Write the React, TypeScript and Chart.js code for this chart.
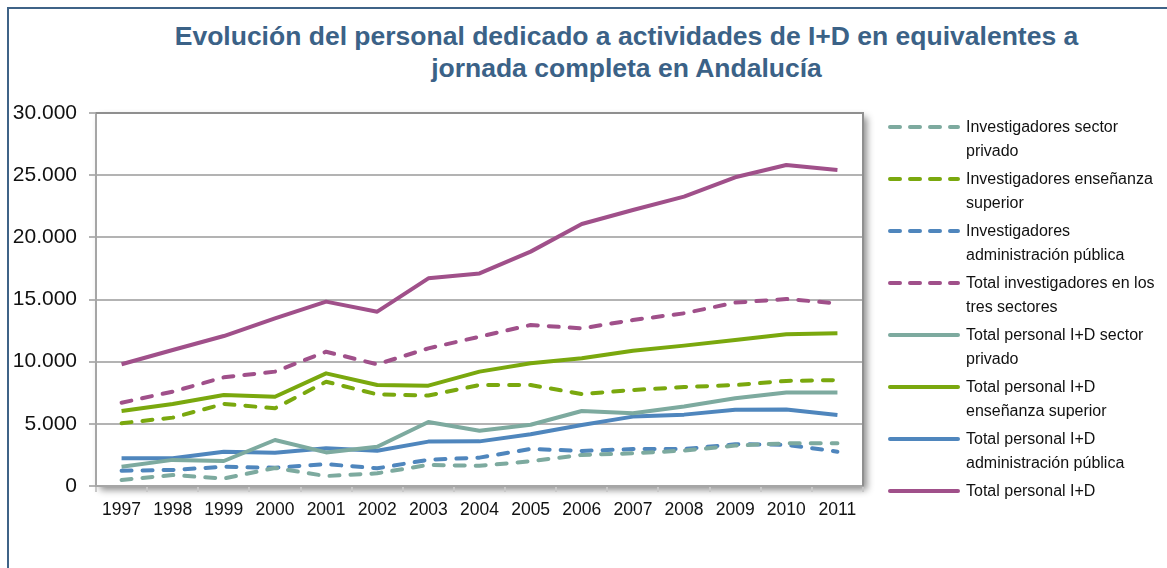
import React, { useEffect, useRef } from "react";
import { Chart, registerables } from "chart.js";

Chart.register(...registerables);

const years = ["1997", "1998", "1999", "2000", "2001", "2002", "2003", "2004", "2005", "2006", "2007", "2008", "2009", "2010", "2011"];

const invPrivado = [480, 880, 600, 1450, 800, 1020, 1700, 1620, 1990, 2500, 2630, 2850, 3250, 3430, 3430];
const invEnsenanza = [5050, 5500, 6600, 6250, 8390, 7370, 7280, 8120, 8120, 7400, 7720, 7960, 8120, 8450, 8520];
const invAdmin = [1230, 1290, 1550, 1470, 1760, 1420, 2110, 2280, 2980, 2820, 2970, 2970, 3360, 3320, 2760];
const invTotal = [6700, 7590, 8740, 9200, 10800, 9790, 11070, 12010, 12950, 12680, 13350, 13890, 14750, 15040, 14690];
const perPrivado = [1550, 2100, 2010, 3700, 2700, 3160, 5150, 4440, 4930, 6030, 5850, 6400, 7050, 7520, 7520];
const perEnsenanza = [6030, 6600, 7320, 7180, 9060, 8120, 8070, 9200, 9870, 10270, 10880, 11290, 11740, 12200, 12280];
const perAdmin = [2230, 2230, 2760, 2680, 3030, 2840, 3570, 3590, 4160, 4910, 5580, 5740, 6140, 6160, 5710];
const perTotal = [9790, 10940, 12060, 13490, 14830, 14020, 16700, 17100, 18850, 21070, 22200, 23270, 24830, 25820, 25420];

const seriesNames = [
  ["Investigadores sector", "privado"],
  ["Investigadores enseñanza", "superior"],
  ["Investigadores", "administración pública"],
  ["Total investigadores en los", "tres sectores"],
  ["Total personal I+D sector", "privado"],
  ["Total personal I+D", "enseñanza superior"],
  ["Total personal I+D", "administración pública"],
  ["Total personal I+D"],
];
const seriesValues = [invPrivado, invEnsenanza, invAdmin, invTotal, perPrivado, perEnsenanza, perAdmin, perTotal];
const seriesColors = ["#7DAA9F", "#7AA80E", "#4F86BD", "#A0508A", "#7DAA9F", "#7AA80E", "#4F86BD", "#A0508A"];
const seriesDashed = [true, true, true, true, false, false, false, false];

const titleLines = ["Evolución del personal dedicado a actividades de I+D en equivalentes a", "jornada completa en Andalucía"];

const REG = "'Liberation Sans', Arial, sans-serif";

const fmt = (v: number) => String(v).replace(/\B(?=(\d{3})+(?!\d))/g, ".");

const plotFrame = {
  id: "plotFrame",
  beforeDraw(chart: any) {
    const { ctx, chartArea: a } = chart;
    ctx.save();
    ctx.shadowColor = "rgba(0,0,0,0.45)";
    ctx.shadowBlur = 7;
    ctx.shadowOffsetX = 4;
    ctx.shadowOffsetY = 4;
    ctx.fillStyle = "#ffffff";
    ctx.fillRect(a.left, a.top, a.right - a.left, a.bottom - a.top);
    ctx.restore();
  },
  beforeDatasetsDraw(chart: any) {
    const { ctx, chartArea: a } = chart;
    ctx.save();
    ctx.strokeStyle = "#8f8f8f";
    ctx.lineWidth = 2;
    ctx.beginPath();
    ctx.moveTo(a.left, a.top);
    ctx.lineTo(a.right, a.top);
    ctx.lineTo(a.right, a.bottom);
    ctx.stroke();
    ctx.restore();
  },
};

export default function App() {
  const ref = useRef<HTMLCanvasElement | null>(null);

  useEffect(() => {
    if (!ref.current) return;
    const chart = new Chart(ref.current, {
      type: "line",
      data: {
        labels: years,
        datasets: seriesValues.map((vals, i) => ({
          label: seriesNames[i].join(" "),
          data: vals,
          borderColor: seriesColors[i],
          backgroundColor: seriesColors[i],
          borderWidth: 4,
          borderDash: seriesDashed[i] ? [10, 11] : [],
          borderCapStyle: seriesDashed[i] ? "round" : "butt",
          borderJoinStyle: "round",
          pointRadius: 0,
          tension: 0,
          fill: false,
        })),
      },
      options: {
        animation: false,
        responsive: false,
        maintainAspectRatio: false,
        layout: { padding: { left: 0, top: 113, right: 304, bottom: 42 } },
        plugins: { legend: { display: false }, title: { display: false }, tooltip: { enabled: false } },
        scales: {
          x: {
            type: "category",
            offset: true,
            afterFit: (s: any) => { s.height = 40; },
            grid: { offset: true, drawOnChartArea: false, drawTicks: true, tickLength: 6, color: "#c8c8c8", lineWidth: 2 },
            border: { display: true, color: "#a6a6a6", width: 2 },
            ticks: { color: "#111", font: { family: REG, size: 17.5 }, padding: 8, maxRotation: 0, autoSkip: false },
          },
          y: {
            min: 0,
            max: 30000,
            afterFit: (s: any) => { s.width = 96; },
            grid: { color: "#b3b3b3", lineWidth: 2, tickLength: 7, drawTicks: true },
            border: { display: true, color: "#a6a6a6", width: 2 },
            ticks: { stepSize: 5000, color: "#111", font: { family: REG, size: 21 }, padding: 12, callback: (v: any) => fmt(Number(v)) },
          },
        },
      },
      plugins: [plotFrame],
    } as any);
    return () => chart.destroy();
  }, []);

  return (
    <div style={{ position: "fixed", left: 0, top: 0, width: 1167, height: 568, overflow: "hidden", background: "#fff" }}>
      <div style={{ position: "absolute", left: 7, top: 7, width: 1300, height: 700, border: "2px solid #3F6387", boxSizing: "border-box" }} />
      <div
        style={{
          position: "absolute", left: 86, right: 0, top: 20, textAlign: "center", whiteSpace: "nowrap",
          fontFamily: REG, fontWeight: "bold", fontSize: 26.5, lineHeight: "32px", color: "#3B6287",
        }}
      >
        {titleLines.map((t, i) => <div key={i}>{t}</div>)}
      </div>
      <canvas ref={ref} width={1167} height={568} style={{ position: "absolute", left: 0, top: 0, width: 1167, height: 568 }} />
      <div style={{ position: "absolute", left: 888, top: 115, fontFamily: REG, fontSize: 16, lineHeight: "24px", color: "#111", whiteSpace: "nowrap" }}>
        {seriesNames.map((lines, i) => (
          <div key={i} style={{ display: "flex", alignItems: "flex-start", marginBottom: 4 }}>
            <svg width={74} height={24} style={{ flex: "0 0 auto", marginLeft: -1 }}>
              <line
                x1={3} y1={12} x2={71} y2={12}
                stroke={seriesColors[i]} strokeWidth={4} strokeLinecap="round"
                strokeDasharray={seriesDashed[i] ? "10 10" : undefined}
              />
            </svg>
            <div style={{ marginLeft: 5 }}>
              {lines.map((l, j) => <div key={j}>{l}</div>)}
            </div>
          </div>
        ))}
      </div>
    </div>
  );
}
